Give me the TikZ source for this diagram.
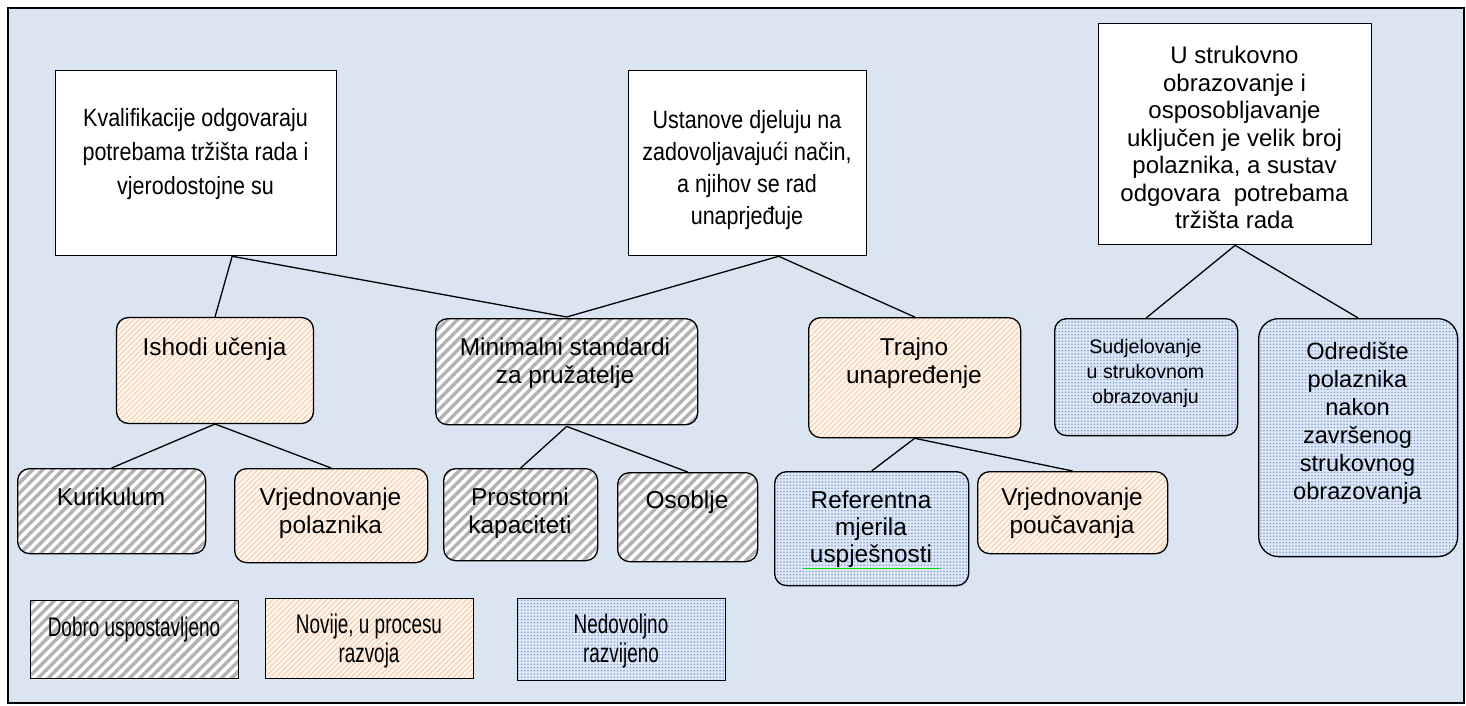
\documentclass[tikz,border=0pt]{standalone}
\usepackage{fontspec}
\setmainfont{Liberation Sans}
\newfontfamily\legendafont[FakeStretch=0.7]{Liberation Sans}
\newfontfamily\ciljfont[FakeStretch=0.86]{Liberation Sans}
\usetikzlibrary{patterns.meta}
\definecolor{pozadina}{RGB}{219,229,241}
\definecolor{narancasta}{RGB}{249,203,165}
\definecolor{breskva}{RGB}{255,248,242}
\definecolor{plavatocka}{RGB}{125,158,216}
\definecolor{plavapodloga}{RGB}{222,232,247}
\begin{document}
\begin{tikzpicture}[x=0.5pt, y=-0.5pt,
        okvir/.style={draw, line width=0.65pt, inner sep=0pt, anchor=north west},
        cilj/.style={okvir, fill=white},
        dobro/.style={okvir, preaction={fill=white}, pattern={Lines[angle=45,distance=3.6pt,line width=1.7pt]}, pattern color=gray!60},
        novije/.style={okvir, preaction={fill=breskva}, pattern={Lines[angle=45,distance=1.9pt,line width=0.5pt]}, pattern color=narancasta},
        slabo/.style={okvir, preaction={fill=plavapodloga}, pattern={Dots[distance=1.6pt,radius=0.42pt]}, pattern color=plavatocka},
        zaobljeno/.style={rounded corners=6pt},
        tekst/.style={anchor=north, align=center, inner sep=0pt, font=\fontsize{12.2}{14}\selectfont},
        legenda/.style={anchor=north, align=center, inner sep=0pt, font=\legendafont\fontsize{13.5}{14.5}\selectfont},
        veza/.style={line width=0.65pt}
    ]
        \useasboundingbox (0,0) rectangle (1466,706);
        \draw[line width=0.8pt, fill=pozadina] (8,8) rectangle (1464,703);

        % Ciljevi
        \node[cilj, minimum width=140.5pt, minimum height=92.5pt] (kval) at (55,70) {};
        \node[tekst, font=\ciljfont\fontsize{12.5}{17}\selectfont] (kval-t) at (195.5,108) {Kvalifikacije odgovaraju\\potrebama tržišta rada i\\vjerodostojne su};
        \node[cilj, minimum width=119pt, minimum height=92.5pt] (ustanove) at (628,70) {};
        \node[tekst, font=\ciljfont\fontsize{12.5}{16}\selectfont] (ustanove-t) at (747,110) {Ustanove djeluju na\\zadovoljavajući način,\\a njihov se rad\\unaprjeđuje};
        \node[cilj, minimum width=136.5pt, minimum height=110.5pt] (sustav) at (1098,23) {};
        \node[tekst, font=\fontsize{12}{13.75}\selectfont] (sustav-t) at (1234.5,46) {U strukovno\\obrazovanje i\\osposobljavanje\\uključen je velik broj\\polaznika, a sustav\\odgovara\ \ potrebama\\tržišta rada};
        \coordinate (kval-spoj) at ([xshift=18pt]kval.south);
        \coordinate (ustanove-spoj) at ([xshift=15.5pt]ustanove.south);

        % Prva razina
        \node[novije, zaobljeno, minimum width=98.5pt, minimum height=53pt] (ishodi) at (116,317) {};
        \node[tekst] (ishodi-t) at (214.5,337) {Ishodi učenja};
        \node[dobro, zaobljeno, minimum width=131pt, minimum height=53pt] (standardi) at (434,317) {};
        \node[tekst] (standardi-t) at (565,337) {Minimalni standardi\\za pružatelje};
        \node[novije, zaobljeno, minimum width=106pt, minimum height=60pt] (trajno) at (808,317) {};
        \node[tekst] (trajno-t) at (914,337) {Trajno\\unapređenje};
        \node[slabo, zaobljeno, minimum width=91.5pt, minimum height=58.5pt] (sudjel) at (1054,318) {};
        \node[tekst, font=\fontsize{9.8}{12.5}\selectfont] (sudjel-t) at (1145.5,339) {Sudjelovanje\\u strukovnom\\obrazovanju};
        \node[slabo, rounded corners=10pt, minimum width=99.5pt, minimum height=119pt] (odrediste) at (1258,318) {};
        \node[tekst, font=\fontsize{11.8}{14}\selectfont] (odrediste-t) at (1357.5,342) {Odredište\\polaznika\\nakon\\završenog\\strukovnog\\obrazovanja};

        % Druga razina
        \node[dobro, zaobljeno, minimum width=94pt, minimum height=42.5pt] (kurikulum) at (17,468) {};
        \node[tekst] (kurikulum-t) at (111,487) {Kurikulum};
        \node[novije, zaobljeno, minimum width=96.5pt, minimum height=47pt] (vrjpol) at (234,468) {};
        \node[tekst] (vrjpol-t) at (330.5,487) {Vrjednovanje\\polaznika};
        \node[dobro, zaobljeno, minimum width=77pt, minimum height=46pt] (prostor) at (443,468) {};
        \node[tekst] (prostor-t) at (520,487) {Prostorni\\kapaciteti};
        \node[dobro, zaobljeno, minimum width=70pt, minimum height=44.5pt] (osoblje) at (617,472) {};
        \node[tekst] (osoblje-t) at (687,490) {Osoblje};
        \node[slabo, zaobljeno, minimum width=97pt, minimum height=57pt] (mjerila) at (774,471) {};
        \node[tekst, font=\fontsize{12.2}{13.5}\selectfont] (mjerila-t) at (871,490) {Referentna\\mjerila\\uspješnosti};
        \draw[green!85!black, line width=0.4pt] (803,568) -- (940,568);
        \node[novije, zaobljeno, minimum width=95pt, minimum height=41pt] (vrjpou) at (977,471) {};
        \node[tekst] (vrjpou-t) at (1072,487) {Vrjednovanje\\poučavanja};

        % Veze
        \draw[veza] (kval-spoj) -- (ishodi.north);
        \draw[veza] (kval-spoj) -- (standardi.north);
        \draw[veza] (ustanove-spoj) -- (standardi.north);
        \draw[veza] (ustanove-spoj) -- (trajno.north);
        \draw[veza] (sustav.south) -- (sudjel.north);
        \draw[veza] (sustav.south) -- (odrediste.north);
        \draw[veza] (ishodi.south) -- (kurikulum.north);
        \draw[veza] (ishodi.south) -- (vrjpol.north);
        \draw[veza] (standardi.south) -- (prostor.north);
        \draw[veza] (standardi.south) -- (osoblje.north);
        \draw[veza] (trajno.south) -- (mjerila.north);
        \draw[veza] (trajno.south) -- (vrjpou.north);

        % Legenda
        \node[dobro, minimum width=104pt, minimum height=39pt] (leg-dobro) at (30,600) {};
        \node[legenda] (leg-dobro-t) at (134,617) {Dobro uspostavljeno};
        \node[novije, minimum width=104pt, minimum height=40pt] (leg-novije) at (265,598) {};
        \node[legenda] (leg-novije-t) at (369,614) {Novije, u procesu\\razvoja};
        \node[slabo, minimum width=104pt, minimum height=41pt] (leg-slabo) at (517,598) {};
        \node[legenda] (leg-slabo-t) at (621,614) {Nedovoljno\\razvijeno};
    \end{tikzpicture}
\end{document}
